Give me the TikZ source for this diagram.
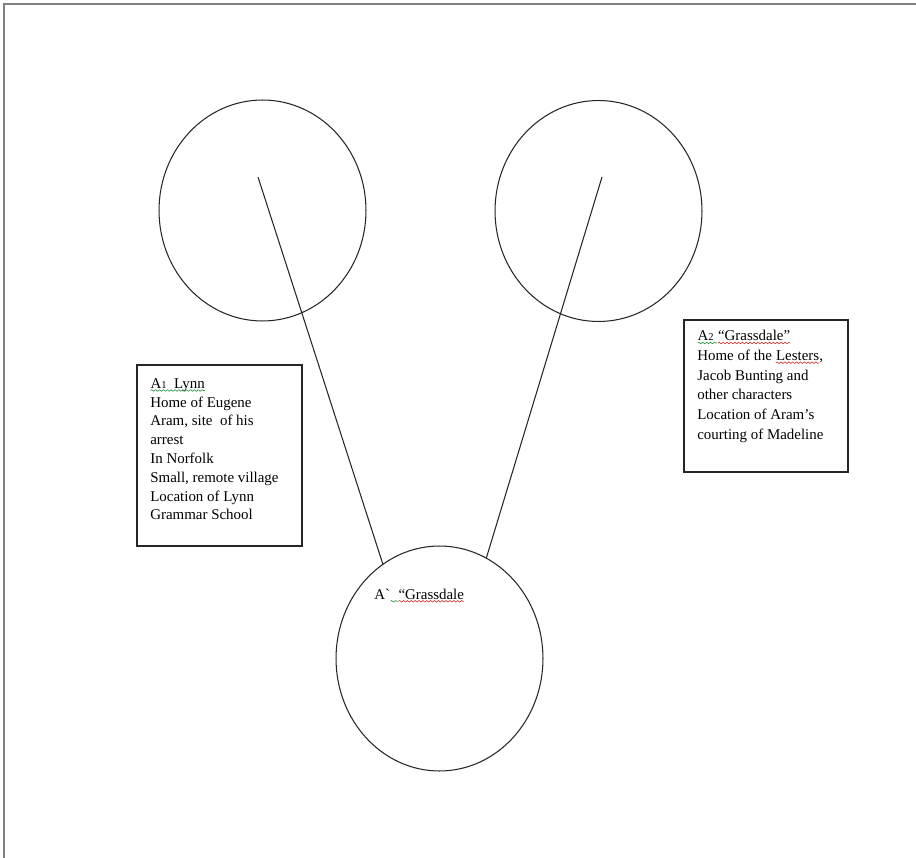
\documentclass[tikz,border=0pt]{standalone}
\usepackage{fontspec}
\setmainfont{Liberation Serif}
\usepackage{tikz}
\usetikzlibrary{shapes.geometric,positioning,decorations.pathmorphing}

% wavy spell-check underline in a given colour
\newcommand\spellmark[2]{\tikz[baseline=(w.base)]{\node[inner sep=0pt, outer sep=0pt, anchor=base] (w) {#2};
    \draw[#1, line width=0.35pt, decorate, decoration={snake, amplitude=0.45pt, segment length=2.2pt}]
        ([yshift=-1.3pt]w.base west) -- ([yshift=-1.3pt]w.base east);}}

\definecolor{spellred}{RGB}{215,45,45}
\definecolor{spellgreen}{RGB}{40,150,60}

\begin{document}
\begin{tikzpicture}[x=0.02cm, y=-0.02cm,
    place/.style={ellipse, draw=black!85, line width=0.6pt, minimum width=4.14cm, minimum height=4.42cm, inner sep=0pt, outer sep=0pt},
    notebox/.style={draw=black!85, line width=0.7pt, anchor=north west, inner sep=0pt, outer sep=0pt},
    notetext/.style={anchor=north west, align=left, inner sep=0pt, font=\fontsize{8.5}{10.7}\selectfont},
    spoke/.style={black!85, line width=0.6pt}]

    \useasboundingbox (0,0) rectangle (916,858);

    % page edge
    \draw[gray, line width=0.8pt] (916,4) -- (4,4) -- (4,858);

    % the three places
    \node[place] (lynn) at (262.5,210.5) {};
    \node[place] (grassdale) at (598.5,211) {};
    \node[place, minimum height=4.5cm] (village) at (439.5,658.5) {};
    \node[notetext, anchor=base west] (villagelabel) at (374,599)
        {A\textasciigrave\spellmark{spellgreen}{\ \ }\spellmark{spellred}{“Grassdale}};

    % spokes down to the village
    \coordinate (lynnhub) at (258,177);
    \coordinate (grasshub) at (602,177);
    \draw[spoke] (lynnhub) -- (village.121);
    \draw[spoke] (grasshub) -- (village.65);

    % Lynn note
    \node[notebox, minimum width=3.3cm, minimum height=3.62cm] (lynnbox) at (137,365) {};
    \node[notetext] (lynntext) at ([shift={(13,13)}]lynnbox.north west)
        {\spellmark{spellgreen}{A{\fontsize{6}{6}\selectfont 1}\ \ Lynn}\\
         Home of Eugene\\
         Aram, site\ \ of his\\
         arrest\\
         In Norfolk\\
         Small, remote village\\
         Location of Lynn\\
         Grammar School};

    % Grassdale note
    \node[notebox, minimum width=3.28cm, minimum height=3.04cm] (grassbox) at (684,320) {};
    \node[notetext, font=\fontsize{8.5}{11.2}\selectfont] (grasstext) at ([shift={(13,10)}]grassbox.north west)
        {\spellmark{spellgreen}{A{\fontsize{6}{6}\selectfont 2}\ }\spellmark{spellred}{“Grassdale”}\\
         Home of the \spellmark{spellred}{Lesters},\\
         Jacob Bunting and\\
         other characters\\
         Location of Aram’s\\
         courting of Madeline};
\end{tikzpicture}
\end{document}
